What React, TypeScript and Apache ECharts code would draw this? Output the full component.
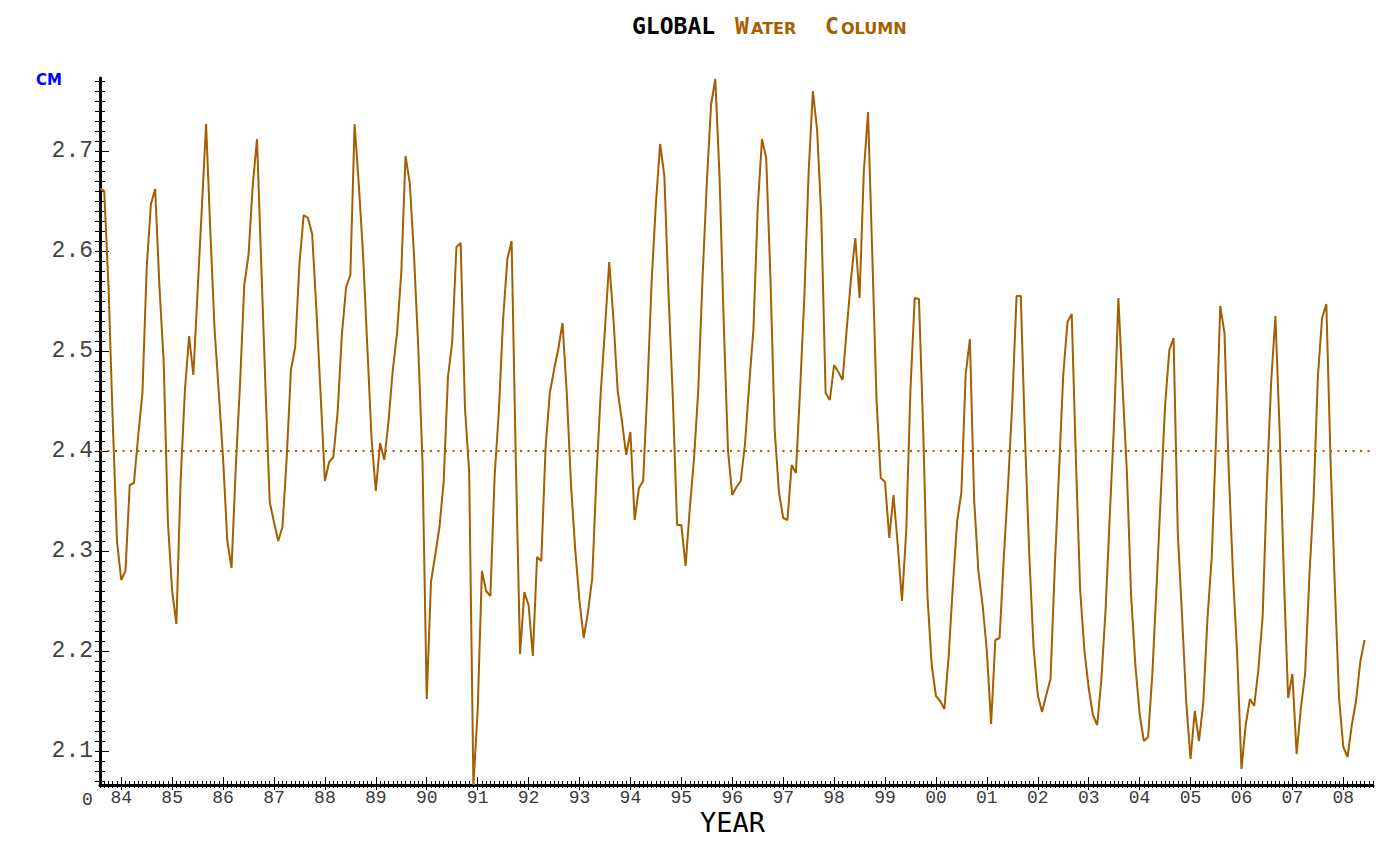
import React, { useEffect, useRef } from "react";
import * as echarts from "echarts";

// Monthly global water column (cm), first value = Aug 1983 (month index 0)
const waterColumn: number[] = [
  2.662, 2.660, 2.565, 2.430, 2.310, 2.271, 2.280, 2.366, 2.368, 2.415, 2.458, 2.583,
  2.647, 2.662, 2.565, 2.490, 2.329, 2.260, 2.227, 2.370, 2.460, 2.515, 2.476, 2.560,
  2.643, 2.727, 2.620, 2.522, 2.458, 2.393, 2.310, 2.283, 2.384, 2.467, 2.566, 2.596,
  2.666, 2.712, 2.587, 2.463, 2.349, 2.329, 2.310, 2.324, 2.393, 2.481, 2.504, 2.587,
  2.636, 2.633, 2.617, 2.541, 2.456, 2.370, 2.389, 2.394, 2.439, 2.516, 2.564, 2.576,
  2.727, 2.666, 2.596, 2.504, 2.412, 2.360, 2.408, 2.391, 2.430, 2.481, 2.518, 2.578,
  2.695, 2.668, 2.596, 2.504, 2.389, 2.152, 2.269, 2.296, 2.324, 2.370, 2.474, 2.509,
  2.604, 2.608, 2.444, 2.379, 2.066, 2.140, 2.280, 2.260, 2.255, 2.375, 2.440, 2.532,
  2.592, 2.610, 2.389, 2.197, 2.259, 2.246, 2.195, 2.294, 2.290, 2.403, 2.458, 2.481,
  2.502, 2.528, 2.458, 2.366, 2.301, 2.250, 2.213, 2.239, 2.273, 2.375, 2.458, 2.522,
  2.589, 2.532, 2.460, 2.430, 2.396, 2.419, 2.331, 2.363, 2.370, 2.462, 2.569, 2.647,
  2.707, 2.675, 2.555, 2.453, 2.326, 2.326, 2.285, 2.343, 2.393, 2.462, 2.573, 2.668,
  2.746, 2.772, 2.675, 2.527, 2.400, 2.356, 2.364, 2.370, 2.407, 2.467, 2.522, 2.643,
  2.712, 2.693, 2.573, 2.421, 2.359, 2.333, 2.331, 2.386, 2.378, 2.462, 2.555, 2.679,
  2.760, 2.721, 2.633, 2.458, 2.451, 2.486, 2.479, 2.471, 2.523, 2.573, 2.613, 2.553,
  2.679, 2.739, 2.596, 2.451, 2.373, 2.369, 2.313, 2.356, 2.306, 2.250, 2.320, 2.462,
  2.553, 2.552, 2.421, 2.255, 2.186, 2.155, 2.150, 2.142, 2.195, 2.266, 2.330, 2.359,
  2.476, 2.512, 2.352, 2.280, 2.246, 2.200, 2.127, 2.211, 2.213, 2.294, 2.366, 2.449,
  2.555, 2.555, 2.412, 2.296, 2.204, 2.156, 2.139, 2.156, 2.172, 2.283, 2.379, 2.476,
  2.529, 2.537, 2.389, 2.260, 2.200, 2.163, 2.136, 2.126, 2.172, 2.243, 2.338, 2.430,
  2.553, 2.463, 2.379, 2.255, 2.186, 2.137, 2.110, 2.114, 2.177, 2.265, 2.357, 2.445,
  2.501, 2.513, 2.318, 2.235, 2.148, 2.092, 2.140, 2.110, 2.148, 2.233, 2.294, 2.411,
  2.545, 2.518, 2.381, 2.277, 2.196, 2.082, 2.126, 2.152, 2.145, 2.182, 2.235, 2.367,
  2.469, 2.535, 2.420, 2.274, 2.153, 2.177, 2.097, 2.143, 2.177, 2.274, 2.352, 2.474,
  2.533, 2.547, 2.391, 2.265, 2.153, 2.104, 2.094, 2.126, 2.150, 2.189, 2.211,
];

const MEAN_VALUE = 2.397;
const FIRST_YEAR = 1984;
const LAST_YEAR = 2008;
const MONTH_SPAN = 300; // months covered by the time axis
const JAN_FIRST_YEAR_INDEX = 5; // month index of Jan 1984
const LAST_YEAR_INDEX = 293; // month index of Jan 2008

const Y_MIN = 2.066;
const Y_MAX = 2.773;
const Y_MINOR_MIN = 2.07;
const Y_MINOR_MAX = 2.77;
const Y_MAJOR_MIN = 2.1;
const Y_MAJOR_MAX = 2.7;

const LINE_COLOR = "#a65e00";

export default function App() {
  const ref = useRef<HTMLDivElement>(null);

  useEffect(() => {
    if (!ref.current) return;
    const chart = echarts.init(ref.current, null, { renderer: "svg" });

    const W = 1400;
    const H = 863;
    const L = 100;
    const R = 1373;
    const T = 78;
    const B = 785;
    const pxPerMonth = (R - L) / MONTH_SPAN;
    const pxPerUnit = (B - T) / (Y_MAX - Y_MIN);
    const yOf = (v: number) => B - (v - Y_MIN) * pxPerUnit;

    const tickFont = "'Liberation Mono', 'DejaVu Sans Mono', monospace";

    const option: any = {
      animation: false,
      backgroundColor: "#ffffff",
      grid: [
        { left: L, right: W - R, top: T, bottom: H - B, outerBoundsMode: "none" },
        // monthly ticks on x
        { left: L, right: W - R, top: T, bottom: H - (B + 3), outerBoundsMode: "none" },
        // year ticks and labels on x
        {
          left: L + JAN_FIRST_YEAR_INDEX * pxPerMonth,
          right: W - (L + LAST_YEAR_INDEX * pxPerMonth),
          top: T,
          bottom: H - (B + 5),
          outerBoundsMode: "none",
        },
        // minor y ticks
        {
          left: L + 5,
          right: W - R,
          top: yOf(Y_MINOR_MAX),
          bottom: H - yOf(Y_MINOR_MIN),
          outerBoundsMode: "none",
        },
        // major y ticks and labels
        {
          left: L + 9,
          right: W - R,
          top: yOf(Y_MAJOR_MAX),
          bottom: H - yOf(Y_MAJOR_MIN),
          outerBoundsMode: "none",
        },
      ],
      xAxis: [
        {
          gridIndex: 0,
          type: "value",
          min: 0,
          max: MONTH_SPAN,
          axisLine: { show: true, onZero: false, lineStyle: { color: "#000", width: 3 } },
          axisTick: { show: false },
          axisLabel: { show: false },
          splitLine: { show: false },
        },
        {
          gridIndex: 1,
          type: "value",
          min: 0,
          max: MONTH_SPAN,
          interval: 1,
          axisLine: { show: false, onZero: false },
          axisTick: { show: true, inside: true, length: 7, lineStyle: { color: "#000", width: 1 } },
          axisLabel: { show: false },
          splitLine: { show: false },
        },
        {
          gridIndex: 2,
          type: "value",
          min: FIRST_YEAR,
          max: LAST_YEAR,
          interval: 1,
          axisLine: { show: false, onZero: false },
          axisTick: { show: true, inside: true, length: 13, lineStyle: { color: "#000", width: 1 } },
          axisLabel: {
            show: true,
            margin: 1,
            color: "#3a3a3a",
            fontFamily: tickFont,
            fontSize: 18,
            lineHeight: 14,
            showMinLabel: true,
            showMaxLabel: true,
            hideOverlap: false,
            formatter: (v: number) => String(v).slice(2),
          },
          splitLine: { show: false },
        },
        { gridIndex: 3, type: "value", min: 0, max: 1, show: false },
        { gridIndex: 4, type: "value", min: 0, max: 1, show: false },
      ],
      yAxis: [
        {
          gridIndex: 0,
          type: "value",
          min: Y_MIN,
          max: Y_MAX,
          axisLine: { show: true, onZero: false, lineStyle: { color: "#000", width: 3 } },
          axisTick: { show: false },
          axisLabel: { show: false },
          splitLine: { show: false },
        },
        { gridIndex: 1, type: "value", min: 0, max: 1, show: false },
        { gridIndex: 2, type: "value", min: 0, max: 1, show: false },
        {
          gridIndex: 3,
          type: "value",
          min: Y_MINOR_MIN,
          max: Y_MINOR_MAX,
          interval: 0.01,
          axisLine: { show: false, onZero: false },
          axisTick: { show: true, inside: false, length: 10, lineStyle: { color: "#000", width: 1 } },
          axisLabel: { show: false },
          splitLine: { show: false },
        },
        {
          gridIndex: 4,
          type: "value",
          min: Y_MAJOR_MIN,
          max: Y_MAJOR_MAX,
          interval: 0.1,
          axisLine: { show: false, onZero: false },
          axisTick: { show: true, inside: false, length: 14, lineStyle: { color: "#000", width: 1 } },
          axisLabel: {
            show: true,
            margin: 16,
            color: "#444",
            fontFamily: tickFont,
            fontSize: 23,
            showMinLabel: true,
            showMaxLabel: true,
            formatter: (v: number) => v.toFixed(1),
          },
          splitLine: { show: false },
        },
      ],
      series: [
        {
          type: "line",
          xAxisIndex: 0,
          yAxisIndex: 0,
          data: waterColumn.map((v, i) => [i, v]),
          showSymbol: false,
          symbol: "none",
          lineStyle: { color: LINE_COLOR, width: 2 },
          itemStyle: { color: LINE_COLOR },
          clip: true,
          silent: true,
          markLine: {
            silent: true,
            symbol: ["none", "none"],
            label: { show: false },
            lineStyle: { color: LINE_COLOR, width: 2, type: [2, 5.5] },
            data: [{ yAxis: MEAN_VALUE }],
          },
        },
      ],
      graphic: [
        {
          type: "text",
          left: 632,
          top: 14,
          style: {
            text: "GLOBAL",
            fill: "#000",
            font: "bold 23px 'DejaVu Sans Mono', monospace",
          },
        },
        {
          type: "text",
          left: 735,
          top: 14,
          style: { text: "W", fill: LINE_COLOR, font: "bold 23px 'DejaVu Sans Mono', monospace" },
        },
        {
          type: "text",
          left: 751,
          top: 20,
          style: { text: "ATER", fill: LINE_COLOR, font: "bold 16px 'DejaVu Sans', sans-serif" },
        },
        {
          type: "text",
          left: 825,
          top: 14,
          style: { text: "C", fill: LINE_COLOR, font: "bold 23px 'DejaVu Sans Mono', monospace" },
        },
        {
          type: "text",
          left: 841,
          top: 20,
          style: { text: "OLUMN", fill: LINE_COLOR, font: "bold 16px 'DejaVu Sans', sans-serif" },
        },
        {
          type: "text",
          left: 36,
          top: 72,
          style: { text: "CM", fill: "#0000ff", font: "bold 15px 'DejaVu Sans', sans-serif" },
        },
        {
          type: "text",
          left: 700,
          top: 809,
          style: {
            text: "YEAR",
            fill: "#000",
            font: "27px 'DejaVu Sans Mono', monospace",
            lineHeight: 20,
          },
        },
        {
          type: "text",
          left: 82,
          top: 791,
          style: {
            text: "0",
            fill: "#3a3a3a",
            font: "18px 'Liberation Mono', monospace",
            lineHeight: 14,
          },
        },
      ],
    };

    chart.setOption(option);
    return () => chart.dispose();
  }, []);

  return (
    <div
      ref={ref}
      style={{ position: "fixed", left: 0, top: 0, width: 1400, height: 863, background: "#fff" }}
    />
  );
}
